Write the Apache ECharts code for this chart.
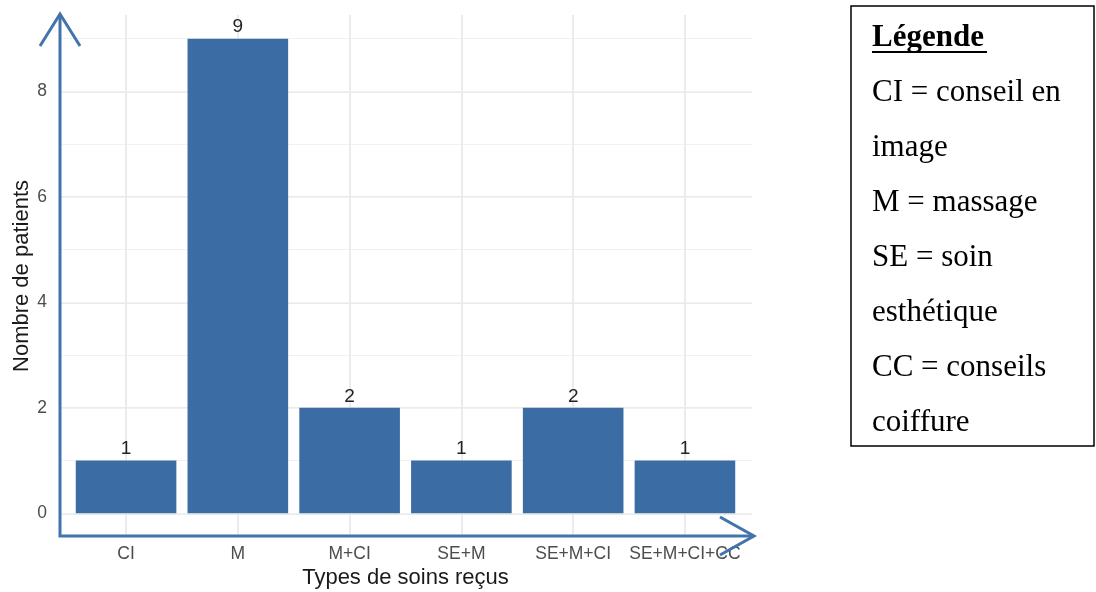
<!DOCTYPE html>
<html>
<head>
<meta charset="utf-8">
<script src="https://cdn.jsdelivr.net/npm/echarts@6/dist/echarts.min.js"></script>
<style>html,body{margin:0;padding:0;background:#fff}#c{width:1096px;height:592px}</style>
</head>
<body>
<div id="c"></div>
<script>
const categories = ['CI', 'M', 'M+CI', 'SE+M', 'SE+M+CI', 'SE+M+CI+CC'];
const patients = [1, 9, 2, 1, 2, 1];
const legendTitle = 'Légende';
const legendLines = ['CI = conseil en', 'image', 'M = massage', 'SE = soin', 'esthétique', 'CC = conseils', 'coiffure'];
const xTitle = 'Types de soins reçus';
const yTitle = 'Nombre de patients';

const BLUE = '#3b6ca3';
const AXIS = '#4273aa';
const GRIDC = '#ebebeb';

const chart = echarts.init(document.getElementById('c'), null, {renderer: 'canvas'});
const yMax = Math.max(...patients);
const yPad = yMax * 0.05;
const xPad = 0.6;

const isInt = v => Math.abs(v - Math.round(v)) < 1e-9;

const option = {
  animation: false,
  backgroundColor: '#fff',
  textStyle: {fontFamily: 'Liberation Sans, Arial, sans-serif'},
  grid: {left: 59, right: 344, top: 15, bottom: 55, containLabel: false, outerBoundsMode: 'none'},
  xAxis: [{
    type: 'value', min: -xPad, max: categories.length - 1 + xPad,
    minInterval: 1, maxInterval: 1,
    axisLine: {show: false}, axisTick: {show: false},
    splitLine: {show: true, showMinLine: false, showMaxLine: false, lineStyle: {color: GRIDC, width: 2}},
    axisLabel: {
      margin: 8, color: '#4d4d4d', fontSize: 17.5, showMinLabel: false, showMaxLabel: false,
      formatter: v => (isInt(v) && categories[Math.round(v)] !== undefined) ? categories[Math.round(v)] : ''
    },
    name: xTitle, nameLocation: 'middle', nameGap: 30, nameMoveOverlap: false,
    nameTextStyle: {color: '#1a1a1a', fontSize: 22}
  }],
  yAxis: [{
    type: 'value', min: -yPad, max: yMax + yPad, minInterval: 2, maxInterval: 2,
    axisLine: {show: false}, axisTick: {show: false},
    splitLine: {show: true, showMinLine: false, showMaxLine: false, lineStyle: {color: GRIDC, width: 2}},
    axisLabel: {margin: 12, color: '#4d4d4d', fontSize: 17.5, showMinLabel: false, showMaxLabel: false,
      formatter: v => isInt(v) ? String(Math.round(v)) : ''},
    name: yTitle, nameLocation: 'middle', nameGap: 26, nameRotate: 90, nameMoveOverlap: false,
    nameTextStyle: {color: '#1a1a1a', fontSize: 22}
  }, {
    type: 'value', min: -yPad, max: yMax + yPad, minInterval: 1, maxInterval: 1,
    axisLine: {show: false}, axisTick: {show: false}, axisLabel: {show: false},
    splitLine: {show: true, showMinLine: false, showMaxLine: false, lineStyle: {color: '#f1f1f1', width: 1}}
  }],
  series: [{
    type: 'bar', xAxisIndex: 0, yAxisIndex: 0,
    data: patients.map((v, i) => [i, v]),
    barWidth: '90%',
    itemStyle: {color: BLUE},
    label: {show: true, position: 'top', distance: 2, color: '#222', fontSize: 19,
      formatter: p => String(p.value[1])},
    z: 3
  }]
};
chart.setOption(option);

function drawDecor() {
  const p0 = chart.convertToPixel({gridIndex: 0}, [-xPad, -yPad]);
  const p1 = chart.convertToPixel({gridIndex: 0}, [categories.length - 1 + xPad, yMax + yPad]);
  const x0 = p0[0] + 1, yb = p0[1] - 1;
  const yTop = p1[1] - 1, xRight = p1[0] + 2;
  const lw = 3;
  const ls = {stroke: AXIS, lineWidth: lw, fill: null, lineCap: 'butt', lineJoin: 'miter'};
  const graphics = [
    {type: 'polyline', shape: {points: [[x0, yTop], [x0, yb], [xRight, yb]]}, style: ls, z: 10},
    {type: 'polyline', shape: {points: [[x0 - 20, yTop + 32], [x0, yTop], [x0 + 20, yTop + 32]]}, style: ls, z: 10},
    {type: 'polyline', shape: {points: [[xRight - 34, yb - 19], [xRight, yb], [xRight - 34, yb + 19]]}, style: ls, z: 10}
  ];
  // legend box
  const bx = 851, by = 6, bw = 243, bh = 440;
  graphics.push({type: 'rect', shape: {x: bx, y: by, width: bw, height: bh},
    style: {fill: '#fff', stroke: '#000', lineWidth: 1.5}, z: 10});
  const serif = 'Liberation Serif, Times New Roman, serif';
  const tx = 872, ly0 = 38, step = 55;
  graphics.push({type: 'text', x: tx, y: ly0, z: 11,
    style: {text: legendTitle, font: 'bold 31px ' + serif, fill: '#000', verticalAlign: 'middle', align: 'left'}});
  graphics.push({type: 'line', shape: {x1: tx, y1: ly0 + 14, x2: tx + 115, y2: ly0 + 14},
    style: {stroke: '#000', lineWidth: 2}, z: 11});
  legendLines.forEach((t, i) => {
    graphics.push({type: 'text', x: tx, y: ly0 + step * (i + 1), z: 11,
      style: {text: t, font: '31px ' + serif, fill: '#000', verticalAlign: 'middle', align: 'left'}});
  });
  chart.setOption({graphic: graphics});
}
drawDecor();
</script>
</body>
</html>
